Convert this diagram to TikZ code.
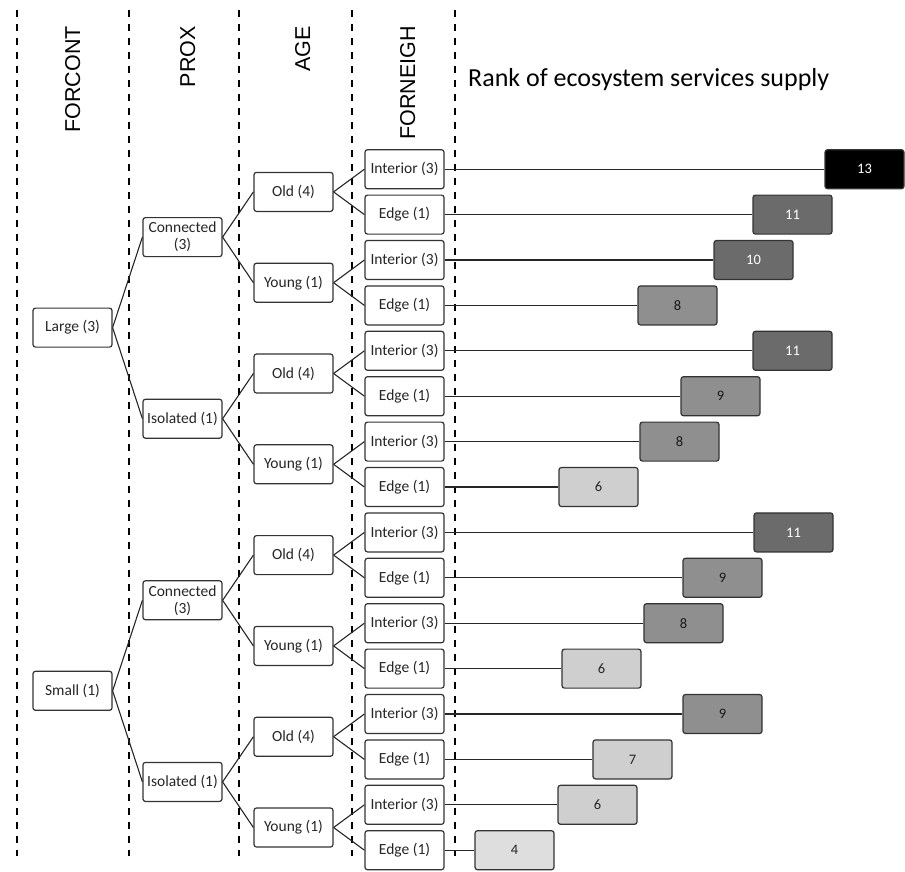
\documentclass[tikz,border=0pt]{standalone}
\usepackage{fontspec}
\setmainfont{Carlito}
\newfontfamily\headfont{Liberation Sans}
\definecolor{rkdark}{HTML}{6B6B6B}
\definecolor{rkmid}{HTML}{8F8F8F}
\definecolor{rklight}{HTML}{CFCFCF}
\definecolor{rkpale}{HTML}{DEDEDE}
\tikzset{
  box/.style={draw=black!80, line width=1.2pt, rounded corners=2.5pt, fill=white,
    minimum width=79pt, minimum height=39pt, inner sep=1pt, align=center,
    text=black!85, font=\fontsize{15.5}{17}\selectfont},
  rank/.style={box, font=\fontsize{14.5}{17}\selectfont},
  rankA/.style={fill=black, text=white},
  rankB/.style={fill=rkdark, text=white},
  rankC/.style={fill=rkmid, text=black!90},
  rankD/.style={fill=rklight, text=black!85},
  rankE/.style={fill=rkpale, text=black!85},
  sep/.style={line width=2pt, dash pattern=on 7pt off 7pt},
  head/.style={font=\headfont\fontsize{21.5}{24}\selectfont, rotate=90, anchor=base east, inner sep=0pt},
  link/.style={line width=1.1pt, black!85},
}
\begin{document}
\begin{tikzpicture}[x=1pt,y=-1pt]
    \useasboundingbox (0,0) rectangle (905,871);
    % Separateurs
    \foreach \x in {17,129,239,352,455}{\draw[sep] (\x,10) -- (\x,856);}
    % Titres
    \foreach \x/\lbl/\nm in {80/FORCONT/hforcont,195/PROX/hprox,310/AGE/hage,415/FORNEIGH/hforneigh}{
      \node[head] (\nm) at (\x,26) {\lbl};
    }
    \node[font=\fontsize{26}{30}\selectfont, anchor=base west, inner sep=0pt] (title) at (468,86) {Rank of ecosystem services supply};
    % FORCONT
    \node[box] (c1) at (72.5,327.6) {Large (3)};
    \node[box] (c2) at (72.5,690.8) {Small (1)};
    % PROX
    \foreach \i/\lbl in {1/{Connected\\(3)},2/{Isolated (1)},3/{Connected\\(3)},4/{Isolated (1)}}{
      \node[box] (p\i) at (182.5,{237.1+181.6*(\i-1)}) {\lbl};
    }
    % AGE
    \foreach \i/\lbl in {1/Old (4),2/Young (1),3/Old (4),4/Young (1),5/Old (4),6/Young (1),7/Old (4),8/Young (1)}{
      \node[box] (a\i) at (293.5,{191.9+90.8*(\i-1)}) {\lbl};
    }
    % FORNEIGH
    \foreach \i [evaluate=\i as \j using int(2*\i-1), evaluate=\i as \k using int(2*\i)] in {1,...,8}{
      \node[box] (f\j) at (404.5,{169.2+45.4*(\j-1)}) {Interior (3)};
      \node[box] (f\k) at (404.5,{169.2+45.4*(\k-1)}) {Edge (1)};
      \draw[link] (a\i.east) -- (f\j.west);
      \draw[link] (a\i.east) -- (f\k.west);
    }
    % Branches
    \foreach \i [evaluate=\i as \j using int(2*\i-1), evaluate=\i as \k using int(2*\i)] in {1,...,4}{
      \draw[link] (p\i.east) -- (a\j.west);
      \draw[link] (p\i.east) -- (a\k.west);
    }
    \foreach \i [evaluate=\i as \j using int(2*\i-1), evaluate=\i as \k using int(2*\i)] in {1,2}{
      \draw[link] (c\i.east) -- (p\j.west);
      \draw[link] (c\i.east) -- (p\k.west);
    }
    % Rangs
    \foreach \i/\xl/\v/\st in {1/825/13/rankA,2/753/11/rankB,3/714/10/rankB,4/638/8/rankC,
      5/753/11/rankB,6/681/9/rankC,7/640/8/rankC,8/559/6/rankD,
      9/754/11/rankB,10/683/9/rankC,11/644/8/rankC,12/562/6/rankD,
      13/683/9/rankC,14/593/7/rankD,15/558/6/rankD,16/475/4/rankE}{
      \node[rank,\st] (r\i) at ({\xl+39.5},{169.2+45.4*(\i-1)}) {\v};
      \draw[link] (f\i.east) -- (r\i.west);
    }
  \end{tikzpicture}
\end{document}
